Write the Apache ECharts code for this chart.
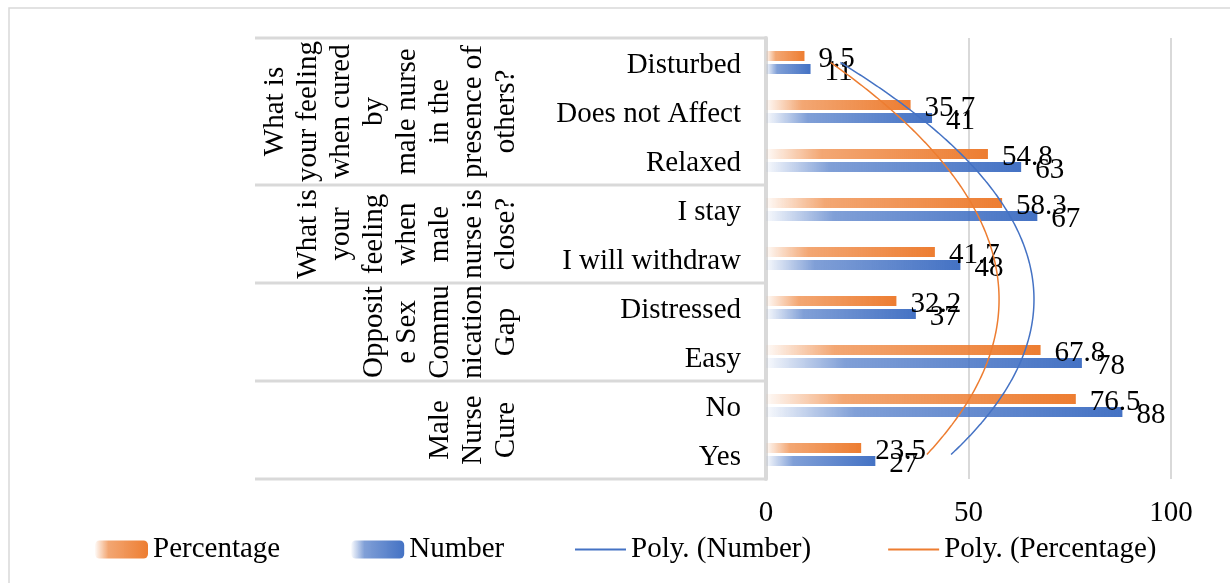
<!DOCTYPE html>
<html><head><meta charset="utf-8">
<script src="https://cdn.jsdelivr.net/npm/echarts@6/dist/echarts.min.js"></script>
<style>html,body{margin:0;padding:0;background:#fff}#c{width:1230px;height:583px}</style>
</head><body><div id="c"></div>
<script>
// ---- data (top to bottom as shown) ----
const categories = ['Disturbed','Does not Affect','Relaxed','I stay','I will withdraw','Distressed','Easy','No','Yes'];
const percentage = [9.5, 35.7, 54.8, 58.3, 41.7, 32.2, 67.8, 76.5, 23.5];
const number = [11, 41, 63, 67, 48, 37, 78, 88, 27];
const xTicks = [0, 50, 100];
const groupLines = [
  ['What is','your feeling','when cured','by','male nurse','in the','presence of','others?'],
  ['What is','your','feeling','when','male','nurse is','close?'],
  ['Opposit','e Sex','Commu','nication','Gap'],
  ['Male','Nurse','Cure']
];
const groupSpans = [[0,2],[3,4],[5,6],[7,8]];

const FONT = 'Liberation Serif';
const FS = 29;
const BLUE = '#4472C4', ORANGE = '#ED7D31';

function grad(r,g,b){
  return new echarts.graphic.LinearGradient(0,0,1,0,[
    {offset:0,color:`rgba(${r},${g},${b},0.04)`},
    {offset:0.25,color:`rgba(${r},${g},${b},0.68)`},
    {offset:1,color:`rgba(${r},${g},${b},1)`}
  ]);
}

// Excel-style 2nd order polynomial trendline: x = category number from bottom (1..n)
function polyFit(vals){
  const n = vals.length;
  const xs = vals.map((v,i)=>n-i);
  let S=[0,0,0,0,0], T=[0,0,0];
  xs.forEach((x,i)=>{ for(let k=0;k<5;k++) S[k]+=Math.pow(x,k); for(let k=0;k<3;k++) T[k]+=vals[i]*Math.pow(x,k); });
  const M=[[S[0],S[1],S[2],T[0]],[S[1],S[2],S[3],T[1]],[S[2],S[3],S[4],T[2]]];
  for(let c=0;c<3;c++){ for(let r=c+1;r<3;r++){ const f=M[r][c]/M[c][c]; for(let k=c;k<4;k++) M[r][k]-=f*M[c][k]; } }
  const co=[0,0,0];
  for(let r=2;r>=0;r--){ let s=M[r][3]; for(let k=r+1;k<3;k++) s-=M[r][k]*co[k]; co[r]=s/M[r][r]; }
  const pts=[];
  for(let x=1;x<=n+1e-9;x+=0.05){ pts.push([co[0]+co[1]*x+co[2]*x*x, x]); }
  return pts;
}

const chart = echarts.init(document.getElementById('c'));
const labelCommon = {show:true, position:'right', distance:14, offset:[0,3], color:'#000', fontFamily:FONT, fontSize:FS};
const legendText = {color:'#000', fontFamily:FONT, fontSize:FS};
chart.setOption({
  animation:false,
  grid:{left:766, right:59, top:38, bottom:104, containLabel:false},
  xAxis:{type:'value', min:xTicks[0], max:xTicks[xTicks.length-1], interval:xTicks[1]-xTicks[0],
    axisLine:{show:false}, axisTick:{show:false},
    splitLine:{show:true, lineStyle:{color:'#d9d9d9', width:2}},
    axisLabel:{color:'#000', fontFamily:FONT, fontSize:FS, margin:20, showMinLabel:true, showMaxLabel:true}},
  yAxis:[
    {type:'category', data:categories, inverse:true,
      axisLine:{show:true, lineStyle:{color:'#d9d9d9', width:4}},
      axisTick:{show:false},
      axisLabel:{margin:25, formatter:v=>'{c|'+v+'}',
        rich:{c:{color:'#000', fontFamily:FONT, fontSize:FS, padding:[6,0,0,0]}}}},
    {type:'value', min:0.5, max:categories.length+0.5, show:false}
  ],
  legend:[
    {data:['Percentage','Number'], left:95, top:535, itemWidth:53, itemHeight:18, itemGap:71, textStyle:legendText, padding:0},
    {data:['Poly. (Number)','Poly. (Percentage)'], left:574, top:535, itemWidth:51, itemHeight:18, itemGap:76, textStyle:legendText, padding:0,
      itemStyle:{opacity:0}, lineStyle:{width:2}}
  ],
  series:[
    {name:'Percentage', type:'bar', data:percentage, barWidth:10, barGap:'30%',
      itemStyle:{color:grad(237,125,49)}, label:labelCommon},
    {name:'Number', type:'bar', data:number, barWidth:10, barGap:'30%',
      itemStyle:{color:grad(68,114,196)}, label:labelCommon},
    {name:'Poly. (Number)', type:'line', yAxisIndex:1, data:polyFit(number), symbol:'none', smooth:true,
      lineStyle:{color:BLUE, width:1.5}, itemStyle:{color:BLUE}, z:5},
    {name:'Poly. (Percentage)', type:'line', yAxisIndex:1, data:polyFit(percentage), symbol:'none', smooth:true,
      lineStyle:{color:ORANGE, width:1.5}, itemStyle:{color:ORANGE}, z:5}
  ]
});

// ---- group labels & separators on the category axis area ----
const yc = categories.map(c=>chart.convertToPixel({yAxisIndex:0}, c));
const band = Math.abs(yc[1]-yc[0]);
const elements = [];
elements.push({type:'rect', shape:{x:9, y:8, width:1240, height:600}, style:{fill:null, stroke:'#d9d9d9', lineWidth:1.5}, silent:true});
const LEFT = 255, RIGHT = 765, LASTX = 506, LH = 33;
const bounds = [yc[0]-band/2];
groupSpans.forEach(s=>bounds.push(yc[s[1]]+band/2));
bounds.forEach(y=>{
  elements.push({type:'line', shape:{x1:LEFT, y1:y, x2:RIGHT, y2:y}, style:{stroke:'#d9d9d9', lineWidth:3}, silent:true});
});
groupSpans.forEach((s,g)=>{
  const cy = (yc[s[0]]-band/2 + yc[s[1]]+band/2)/2;
  const lines = groupLines[g];
  lines.forEach((t,i)=>{
    const x = LASTX - (lines.length-1-i)*LH;
    elements.push({type:'text', x:x, y:cy, rotation:Math.PI/2,
      style:{text:t, x:0, y:0, align:'center', verticalAlign:'middle', fill:'#000', font:`${FS}px "${FONT}"`}, silent:true});
  });
});
chart.setOption({graphic:{elements}});
</script></body></html>
